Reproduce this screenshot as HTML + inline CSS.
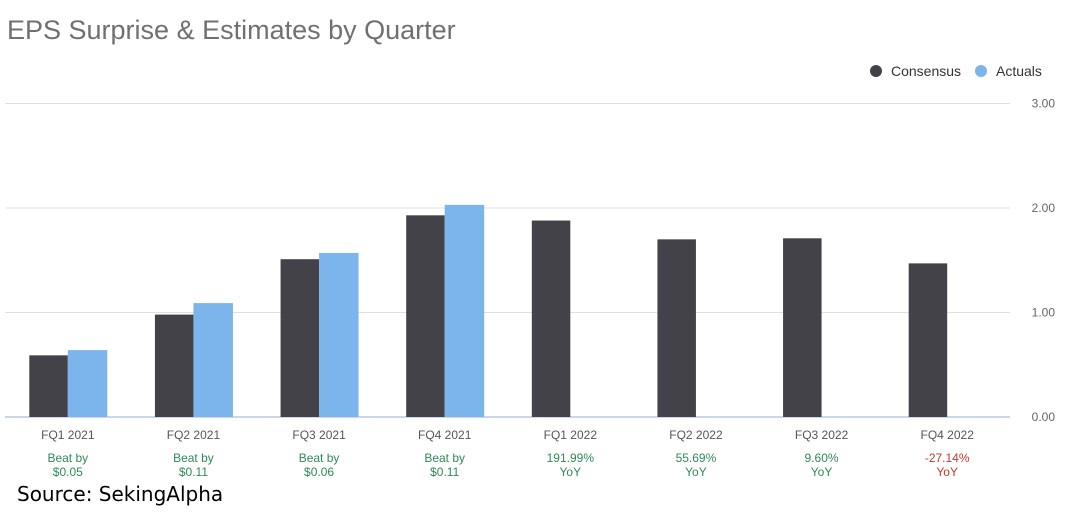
<!DOCTYPE html>
<html><head><meta charset="utf-8">
<style>
body{margin:0;background:#fff;width:1072px;height:518px;overflow:hidden;font-family:"Liberation Sans",Arial,sans-serif;}
</style></head>
<body>
<svg width="1072" height="518" xmlns="http://www.w3.org/2000/svg">
<text x="7" y="39" font-size="27" fill="#707070">EPS Surprise &amp; Estimates by Quarter</text>
<g>
<circle cx="876" cy="71" r="6" fill="#434248"/>
<text x="891" y="76" font-size="14" fill="#333">Consensus</text>
<circle cx="981" cy="71" r="6" fill="#7cb5ec"/>
<text x="996" y="76" font-size="14" fill="#333">Actuals</text>
</g>
<g id="grid"></g>
<g id="bars"></g>
<g id="labels"></g>
<text x="17" y="501" font-size="20" fill="#000" font-family="'DejaVu Sans','Liberation Sans',sans-serif">Source: SekingAlpha</text>
</svg>
<script>
const categories=["FQ1 2021","FQ2 2021","FQ3 2021","FQ4 2021","FQ1 2022","FQ2 2022","FQ3 2022","FQ4 2022"];
const consensus=[0.59,0.98,1.51,1.93,1.88,1.70,1.71,1.47];
const actuals=[0.64,1.09,1.57,2.03,null,null,null,null];
const noteLine1=["Beat by","Beat by","Beat by","Beat by","191.99%","55.69%","9.60%","-27.14%"];
const noteLine2=["$0.05","$0.11","$0.06","$0.11","YoY","YoY","YoY","YoY"];
const noteNeg=[false,false,false,false,false,false,false,true];
const yTicks=[0,1,2,3];
const yTickLabels=["0.00","1.00","2.00","3.00"];
const NS="http://www.w3.org/2000/svg";
const x0=5,x1=1010,y0=417,pxPerUnit=104.5;
const gw=(x1-x0)/categories.length;
const yS=v=>y0-v*pxPerUnit;
const cx=i=>x0+gw*(i+0.5);
function mk(t,a,p){const e=document.createElementNS(NS,t);for(const k in a)e.setAttribute(k,a[k]);p.appendChild(e);return e;}
const grid=document.getElementById('grid'),bars=document.getElementById('bars'),labels=document.getElementById('labels');
yTicks.forEach((t,i)=>{
 const l=mk('line',{x1:x0,x2:x1,y1:yS(t),y2:yS(t),stroke:t===0?'#ccd6eb':'#e0e0e0','stroke-width':t===0?2:1},grid);
 
 
 const tx=mk('text',{x:1055,y:yS(t)+4,'font-size':12,fill:'#666','text-anchor':'end'},grid);
 tx.textContent=yTickLabels[i];
 
 
});
const bw=38.5;
categories.forEach((c,i)=>{
 const x=cx(i);
 const b=mk('rect',{x:x-bw,y:yS(consensus[i]),width:bw,height:consensus[i]*pxPerUnit,fill:'#434248'},bars);
 
 
 if(actuals[i]!=null){
  const a=mk('rect',{x:x,y:yS(actuals[i]),width:bw+1,height:actuals[i]*pxPerUnit,fill:'#7cb5ec'},bars);
  
  
 }
 const t=mk('text',{x:x,y:439,'font-size':12,fill:'#555','text-anchor':'middle'},labels);
 t.textContent=c;
 
 
 const col=noteNeg[i]?'#c0392b':'#2e8b57';
 const n1=mk('text',{x:x,y:462,'font-size':12,fill:col,'text-anchor':'middle'},labels);
 n1.textContent=noteLine1[i];
 
 
 const n2=mk('text',{x:x,y:476,'font-size':12,fill:col,'text-anchor':'middle'},labels);
 n2.textContent=noteLine2[i];
 
 
});
</script>
</body></html>
